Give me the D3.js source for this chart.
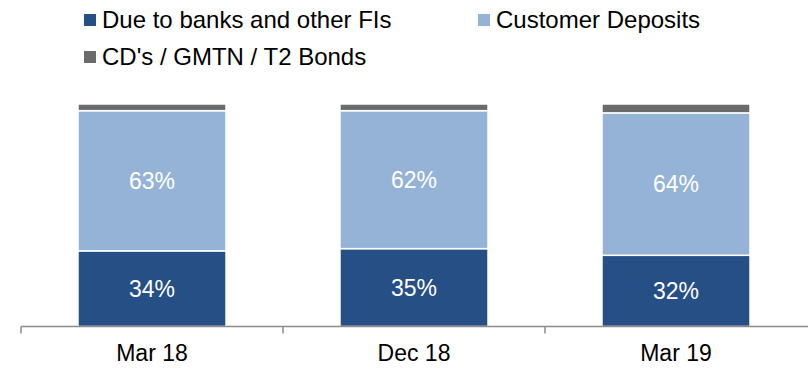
<!DOCTYPE html>
<html>
<head>
<meta charset="utf-8">
<script src="https://cdn.jsdelivr.net/npm/d3@7"></script>
<style>
  html, body { margin: 0; padding: 0; background: #fff; }
  svg { display: block; font-family: "Liberation Sans", Arial, sans-serif; }
</style>
</head>
<body>
<svg id="chart" width="808" height="369"></svg>
<script>
// Funding mix by period (share of total, %)
const categories = ["Mar 18", "Dec 18", "Mar 19"];
const seriesNames = ["Due to banks and other FIs", "Customer Deposits", "CD's / GMTN / T2 Bonds"];
const dueToBanks = [34, 35, 32];
const customerDeposits = [63, 62, 64];
const cdsBonds = [3, 3, 4];
const colors = ["#264f85", "#95b3d7", "#6b6b6b"];

const rows = categories.map((c, i) => ({
  cat: c,
  [seriesNames[0]]: dueToBanks[i],
  [seriesNames[1]]: customerDeposits[i],
  [seriesNames[2]]: cdsBonds[i]
}));

const svg = d3.select("#chart");
const labelSize = 23;
const legendSize = 24;

const x = d3.scaleBand().domain(categories).range([21, 807]).padding(0);
const y = d3.scaleLinear().domain([0, 100]).range([326.5, 104]);
const barW = x.bandwidth() * 0.565;

const stack = d3.stack().keys(seriesNames);
const layers = stack(rows);

const g = svg.append("g");
layers.forEach((layer, si) => {
  g.selectAll(null)
    .data(layer)
    .join("rect")
    .attr("x", d => x(d.data.cat) + (x.bandwidth() - barW) / 2)
    .attr("y", d => y(d[1]))
    .attr("width", barW)
    .attr("height", d => y(d[0]) - y(d[1]))
    .attr("fill", colors[si])
    .attr("stroke", "#fff")
    .attr("stroke-width", 1.5);
});

// Value labels on the two main segments
layers.slice(0, 2).forEach(layer => {
  g.selectAll(null)
    .data(layer)
    .join("text")
    .attr("x", d => x(d.data.cat) + x.bandwidth() / 2)
    .attr("y", d => (y(d[0]) + y(d[1])) / 2)
    .attr("dy", "0.36em")
    .attr("text-anchor", "middle")
    .attr("fill", "#fff")
    .attr("font-size", labelSize)
    .text(d => (d[1] - d[0]) + "%");
});

// Category axis
const axisY = y(0);
svg.append("line")
  .attr("x1", x.range()[0]).attr("x2", 808)
  .attr("y1", axisY).attr("y2", axisY)
  .attr("stroke", "#8c8c8c").attr("stroke-width", 1.5);
svg.selectAll(null)
  .data(categories.map(c => x(c)))
  .join("line")
  .attr("x1", d => d).attr("x2", d => d)
  .attr("y1", axisY).attr("y2", axisY + 7)
  .attr("stroke", "#8c8c8c").attr("stroke-width", 1.5);
svg.selectAll(null)
  .data(categories)
  .join("text")
  .attr("x", d => x(d) + x.bandwidth() / 2)
  .attr("y", 361)
  .attr("text-anchor", "middle")
  .attr("fill", "#000")
  .attr("font-size", labelSize)
  .text(d => d);

// Legend
const legendPos = [
  { x: 84, y: 28 },
  { x: 478, y: 28 },
  { x: 84, y: 65 }
];
const legend = svg.append("g");
seriesNames.forEach((name, i) => {
  const p = legendPos[i];
  legend.append("rect")
    .attr("x", p.x).attr("y", p.y - 14)
    .attr("width", 12).attr("height", 12)
    .attr("fill", colors[i]);
  legend.append("text")
    .attr("x", p.x + 18).attr("y", p.y)
    .attr("fill", "#000")
    .attr("font-size", legendSize)
    .text(name);
});
</script>
</body>
</html>
